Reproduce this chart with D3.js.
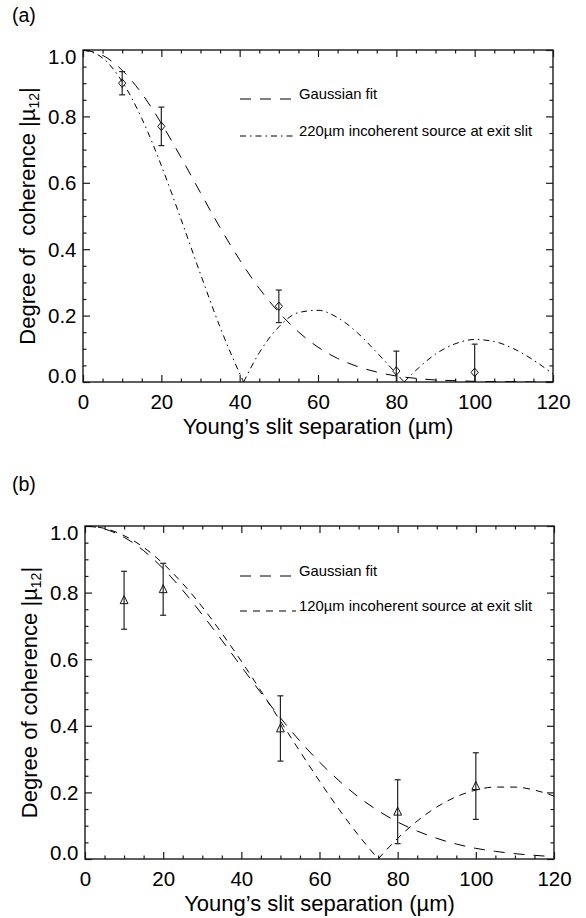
<!DOCTYPE html>
<html><head><meta charset="utf-8">
<script src="https://cdn.jsdelivr.net/npm/d3@7"></script>
<style>
html,body{margin:0;padding:0;background:#fff;}
svg{display:block;}
text{font-family:"Liberation Sans",Arial,Helvetica,sans-serif;fill:#000;}
</style></head><body>
<svg id="chart" width="586" height="918"></svg>
<script>
// ---------- data ----------
const xTicks = [0, 20, 40, 60, 80, 100, 120];
const yTicks = [0.0, 0.2, 0.4, 0.6, 0.8, 1.0];
const xTitle = "Young\u2019s slit separation (\u00b5m)";

// panel (a): measured points (diamonds)
const sepA = [10, 20, 50, 80, 100];
const cohA = [0.900, 0.770, 0.228, 0.033, 0.029];
const errA = [0.035, 0.058, 0.049, 0.060, 0.085];
// panel (a): Gaussian fit
const gaussAX = [0,5,10,15,20,25,30,35,40,45,50,55,60,65,70,75,80,85,90,95,100,105,110,115,120];
const gaussAY = [1.000,0.984,0.939,0.869,0.779,0.677,0.570,0.465,0.368,0.282,0.210,0.151,0.105,0.071,0.047,0.030,0.018,0.011,0.006,0.004,0.002,0.001,0.001,0.000,0.000];
// panel (a): 220um incoherent source
const srcAX = [0,5,10,15,20,25,30,35,38,41,45,50,55,60,65,70,75,78,82,85,90,95,100,105,110,115,120];
const srcAY = [1.000,0.976,0.905,0.794,0.652,0.491,0.325,0.165,0.079,0.000,0.088,0.166,0.209,0.216,0.194,0.149,0.089,0.051,0.000,0.035,0.084,0.115,0.128,0.122,0.100,0.066,0.024];

// panel (b): measured points (triangles)
const sepB = [10, 20, 50, 80, 100];
const cohB = [0.777, 0.810, 0.392, 0.142, 0.219];
const errB = [0.087, 0.078, 0.098, 0.096, 0.100];
// panel (b): Gaussian fit
const gaussBX = [0,5,10,15,20,25,30,35,40,45,50,55,60,65,70,75,80,85,90,95,100,105,110,115,120];
const gaussBY = [1.000,0.991,0.966,0.926,0.872,0.807,0.734,0.657,0.578,0.499,0.424,0.354,0.291,0.235,0.186,0.145,0.111,0.084,0.062,0.045,0.032,0.023,0.016,0.011,0.007];
// panel (b): 120um incoherent source
const srcBX = [0,5,10,15,20,25,30,35,40,45,50,55,60,65,70,72,75,80,85,90,95,100,105,110,115,120];
const srcBY = [1.000,0.993,0.971,0.936,0.887,0.827,0.757,0.678,0.594,0.505,0.414,0.323,0.234,0.149,0.071,0.042,0.000,0.062,0.114,0.156,0.187,0.207,0.216,0.216,0.207,0.189];

// ---------- drawing ----------
const svg = d3.select("#chart");
const INK = "#1a1a1a";

function drawPanel(cfg) {
  const g = svg.append("g");
  const x = d3.scaleLinear().domain([0, 120]).range([cfg.left, cfg.right]);
  const y = d3.scaleLinear().domain([0, 1]).range([cfg.bottom, cfg.top]);
  const xMinor = d3.range(0, 121, 5).filter(v => !xTicks.includes(v));
  const yMinor = d3.range(0, 21).map(i => i * 0.05).filter(v => !yTicks.some(t => Math.abs(t - v) < 1e-6));

  const styleAxis = sel => {
    sel.select(".domain").remove();
    sel.attr("color", INK).attr("font-size", 20.5)
       .attr("font-family", "'Liberation Sans', Arial, Helvetica, sans-serif");
    sel.selectAll(".tick line").attr("stroke-width", 1.2);
    sel.selectAll(".tick text").attr("fill", "#000");
  };

  // bottom axis
  g.append("g").attr("transform", `translate(0,${cfg.bottom})`)
    .call(d3.axisBottom(x).tickValues(xTicks).tickFormat(d3.format("d"))
      .tickSizeInner(-7).tickSizeOuter(0).tickPadding(12.2)).call(styleAxis);
  g.append("g").attr("transform", `translate(0,${cfg.bottom})`)
    .call(d3.axisBottom(x).tickValues(xMinor).tickFormat("")
      .tickSizeInner(-3.5).tickSizeOuter(0)).call(styleAxis);
  // top axis
  g.append("g").attr("transform", `translate(0,${cfg.top})`)
    .call(d3.axisTop(x).tickValues(xTicks).tickFormat("")
      .tickSizeInner(-7).tickSizeOuter(0)).call(styleAxis);
  g.append("g").attr("transform", `translate(0,${cfg.top})`)
    .call(d3.axisTop(x).tickValues(xMinor).tickFormat("")
      .tickSizeInner(-3.5).tickSizeOuter(0)).call(styleAxis);
  // left axis
  const yl = g.append("g").attr("transform", `translate(${cfg.left},0)`)
    .call(d3.axisLeft(y).tickValues(yTicks).tickFormat(d3.format(".1f"))
      .tickSizeInner(-7).tickSizeOuter(0).tickPadding(6.5)).call(styleAxis);
  yl.selectAll(".tick text").attr("dy", d => d === 1 ? "0.64em" : d === 0 ? "0.04em" : "0.34em");
  g.append("g").attr("transform", `translate(${cfg.left},0)`)
    .call(d3.axisLeft(y).tickValues(yMinor).tickFormat("")
      .tickSizeInner(-3.5).tickSizeOuter(0)).call(styleAxis);
  // right axis
  g.append("g").attr("transform", `translate(${cfg.right},0)`)
    .call(d3.axisRight(y).tickValues(yTicks).tickFormat("")
      .tickSizeInner(-7).tickSizeOuter(0)).call(styleAxis);
  g.append("g").attr("transform", `translate(${cfg.right},0)`)
    .call(d3.axisRight(y).tickValues(yMinor).tickFormat("")
      .tickSizeInner(-3.5).tickSizeOuter(0)).call(styleAxis);

  // frame
  g.append("rect").attr("x", cfg.left).attr("y", cfg.top)
    .attr("width", cfg.right - cfg.left).attr("height", cfg.bottom - cfg.top)
    .attr("fill", "none").attr("stroke", INK).attr("stroke-width", 1.4);

  // clip
  const clipId = "clip-" + cfg.id;
  svg.append("clipPath").attr("id", clipId).append("rect")
    .attr("x", cfg.left).attr("y", cfg.top)
    .attr("width", cfg.right - cfg.left).attr("height", cfg.bottom - cfg.top);
  const plot = g.append("g").attr("clip-path", `url(#${clipId})`);

  // curves: split into lobes at zeros, smooth each lobe
  const line = d3.line().x(d => x(d[0])).y(d => y(d[1])).curve(d3.curveMonotoneX);
  function curvePath(xs, ys) {
    const pts = xs.map((v, i) => [v, ys[i]]);
    const segs = []; let cur = [pts[0]];
    for (let i = 1; i < pts.length; i++) {
      cur.push(pts[i]);
      if (pts[i][1] === 0 && i < pts.length - 1 && pts[i - 1][1] > 0 && pts[i + 1][1] > 0) {
        segs.push(cur); cur = [pts[i]];
      }
    }
    segs.push(cur);
    return segs.map(s => line(s)).join("");
  }
  cfg.curves.forEach(c => {
    plot.append("path").attr("d", curvePath(c.xs, c.ys))
      .attr("fill", "none").attr("stroke", "#000").attr("stroke-width", 1)
      .attr("stroke-dasharray", c.dash);
  });

  // error bars
  const eb = plot.append("g").attr("stroke", "#222").attr("stroke-width", 1.2);
  cfg.sep.forEach((s, i) => {
    const cx = x(s), y0 = y(cfg.coh[i] - cfg.err[i]), y1 = y(cfg.coh[i] + cfg.err[i]);
    eb.append("line").attr("x1", cx).attr("x2", cx).attr("y1", y0).attr("y2", y1);
    eb.append("line").attr("x1", cx - 3).attr("x2", cx + 3).attr("y1", y0).attr("y2", y0);
    eb.append("line").attr("x1", cx - 3).attr("x2", cx + 3).attr("y1", y1).attr("y2", y1);
  });
  // markers
  const mk = plot.append("g").attr("fill", "none").attr("stroke", "#111").attr("stroke-width", 1);
  cfg.sep.forEach((s, i) => {
    const cx = x(s), cy = y(cfg.coh[i]);
    let d;
    if (cfg.marker === "diamond") {
      d = `M${cx},${cy - 4.3}L${cx + 3.6},${cy}L${cx},${cy + 4.3}L${cx - 3.6},${cy}Z`;
    } else {
      d = `M${cx},${cy - 4.6}L${cx + 3.9},${cy + 3.4}L${cx - 3.9},${cy + 3.4}Z`;
    }
    mk.append("path").attr("d", d);
  });

  // legend
  cfg.legend.forEach(l => {
    g.append("line").attr("x1", 240).attr("x2", 296).attr("y1", l.y).attr("y2", l.y)
      .attr("stroke", "#000").attr("stroke-width", 1).attr("stroke-dasharray", l.dash);
    g.append("text").attr("x", 299).attr("y", l.y).attr("font-size", 14.8).text(l.label);
  });

  // axis titles
  g.append("text").attr("x", (cfg.left + cfg.right) / 2).attr("y", cfg.bottom + 51.5)
    .attr("text-anchor", "middle").attr("font-size", 22).text(xTitle);
  const yt = g.append("text")
    .attr("transform", `translate(${cfg.yTitleX},${(cfg.top + cfg.bottom) / 2}) rotate(-90)`)
    .attr("text-anchor", "middle").attr("font-size", 22).style("white-space", "pre");
  yt.append("tspan").text(cfg.yTitle + " |\u00b5");
  yt.append("tspan").attr("font-size", 14).attr("dy", 4).text("12");
  yt.append("tspan").attr("dy", -4).text("|");

  // panel label
  g.append("text").attr("x", 12).attr("y", cfg.labelY).attr("font-size", 19.5).text(cfg.label);
}

const longDash = "11,9";
const dashDot = "6,4,1.5,4";
const shortDash = "7,6";

drawPanel({
  id: "a", left: 83, right: 553, top: 50, bottom: 382, yTitleX: 35, labelY: 22, label: "(a)",
  yTitle: "Degree of  coherence",
  sep: sepA, coh: cohA, err: errA, marker: "diamond",
  curves: [{xs: gaussAX, ys: gaussAY, dash: longDash}, {xs: srcAX, ys: srcAY, dash: dashDot}],
  legend: [{y: 99, dash: longDash, label: "Gaussian fit"},
           {y: 136, dash: dashDot, label: "220\u00b5m incoherent source at exit slit"}]
});
drawPanel({
  id: "b", left: 85, right: 554, top: 526, bottom: 859, yTitleX: 37, labelY: 491, label: "(b)",
  yTitle: "Degree of coherence",
  sep: sepB, coh: cohB, err: errB, marker: "triangle",
  curves: [{xs: gaussBX, ys: gaussBY, dash: longDash}, {xs: srcBX, ys: srcBY, dash: shortDash}],
  legend: [{y: 576, dash: longDash, label: "Gaussian fit"},
           {y: 611, dash: shortDash, label: "120\u00b5m incoherent source at exit slit"}]
});
</script>
</body></html>
